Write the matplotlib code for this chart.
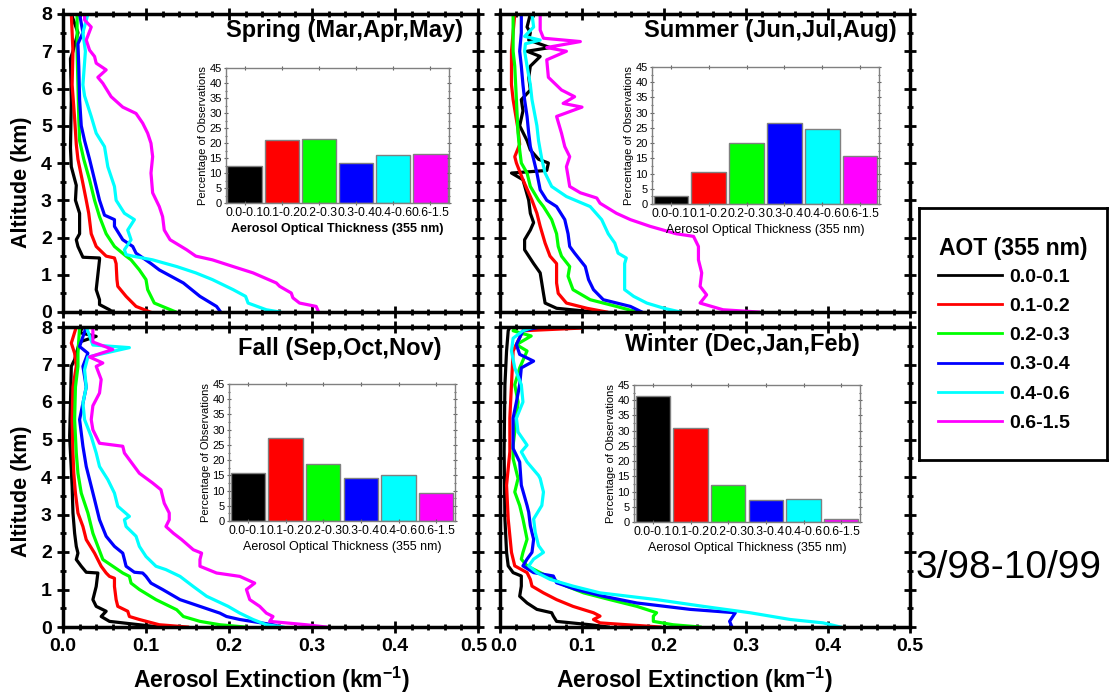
import numpy as np
import matplotlib.pyplot as plt
import matplotlib.transforms as mtransforms
from matplotlib.ticker import MultipleLocator
from matplotlib.lines import Line2D

plt.rcParams['font.family'] = ['Liberation Sans', 'DejaVu Sans']
plt.rcParams['mathtext.fontset'] = 'custom'
plt.rcParams['mathtext.rm'] = 'Liberation Sans:bold'
plt.rcParams['mathtext.bf'] = 'Liberation Sans:bold'

aot_bins = ['0.0-0.1', '0.1-0.2', '0.2-0.3', '0.3-0.4', '0.4-0.6', '0.6-1.5']
colors = ['#000000', '#ff0000', '#00ff00', '#0000ff', '#00ffff', '#ff00ff']

# percentage of observations per AOT bin
spring_pct = [12.2, 21.0, 21.3, 13.3, 16.0, 16.4]
summer_pct = [2.5, 10.5, 20.0, 26.6, 24.7, 15.7]
fall_pct = [15.7, 27.1, 18.7, 14.2, 15.1, 9.2]
winter_pct = [41.5, 30.8, 12.3, 7.1, 7.7, 1.0]

# ---- spring profiles (altitude km, extinction km-1) ----
spring_k_alt = [0, 0.06, 0.2, 0.33, 0.6, 1.0, 1.4, 1.45, 1.47, 1.76, 1.94, 2.1, 2.65, 3.0, 3.4, 3.9, 4.4, 5.7, 6.8, 7.0, 7.5, 8.0]
spring_k_ext = [0.060, 0.056, 0.044, 0.044, 0.040, 0.042, 0.044, 0.044, 0.024, 0.018, 0.016, 0.020, 0.020, 0.015, 0.016, 0.010, 0.009, 0.010, 0.009, 0.012, 0.018, 0.010]
spring_r_alt = [0, 0.15, 0.42, 0.69, 0.87, 1.3, 1.45, 1.5, 1.76, 2.1, 2.65, 3.0, 3.45, 4.1, 4.5, 5.2, 6.1, 7.0, 8.0]
spring_r_ext = [0.105, 0.088, 0.076, 0.066, 0.065, 0.064, 0.062, 0.052, 0.040, 0.034, 0.031, 0.028, 0.024, 0.018, 0.016, 0.014, 0.011, 0.012, 0.010]
spring_g_alt = [0, 0.24, 0.6, 0.87, 1.13, 1.4, 1.5, 1.76, 2.1, 2.56, 3.0, 3.55, 4.1, 4.6, 5.2, 6.1, 7.0, 8.0]
spring_g_ext = [0.136, 0.110, 0.102, 0.100, 0.092, 0.082, 0.076, 0.062, 0.052, 0.044, 0.038, 0.032, 0.025, 0.020, 0.019, 0.018, 0.017, 0.017]
spring_b_alt = [0, 0.15, 0.42, 0.78, 1.13, 1.3, 1.58, 1.76, 1.94, 2.3, 2.48, 2.6, 3.0, 3.55, 4.1, 4.6, 5.0, 5.7, 6.6, 7.2, 7.5, 8.0]
spring_b_ext = [0.190, 0.185, 0.165, 0.145, 0.116, 0.106, 0.088, 0.084, 0.072, 0.062, 0.062, 0.050, 0.044, 0.038, 0.032, 0.026, 0.022, 0.020, 0.019, 0.018, 0.024, 0.020]
spring_c_alt = [0, 0.06, 0.24, 0.42, 0.6, 0.87, 1.05, 1.22, 1.4, 1.5, 1.54, 1.67, 1.94, 2.2, 2.48, 2.65, 3.0, 3.37, 3.9, 4.44, 4.8, 5.25, 5.8, 6.1, 7.0, 7.5, 8.0]
spring_c_ext = [0.261, 0.245, 0.223, 0.220, 0.205, 0.180, 0.160, 0.137, 0.108, 0.084, 0.076, 0.074, 0.082, 0.078, 0.086, 0.074, 0.064, 0.062, 0.054, 0.050, 0.040, 0.034, 0.026, 0.024, 0.027, 0.024, 0.030]
spring_m_alt = [0, 0.15, 0.24, 0.38, 0.51, 0.69, 0.78, 1.05, 1.22, 1.4, 1.5, 1.67, 1.94, 2.2, 2.56, 2.83, 3.2, 3.73, 4.17, 4.53, 4.8, 5.07, 5.33, 5.5, 5.78, 6.14, 6.3, 6.5, 6.68, 6.86, 7.03, 7.3, 7.65, 7.84, 8.0]
spring_m_ext = [0.308, 0.305, 0.285, 0.277, 0.275, 0.261, 0.257, 0.229, 0.205, 0.180, 0.160, 0.149, 0.129, 0.122, 0.120, 0.116, 0.108, 0.106, 0.108, 0.106, 0.102, 0.096, 0.088, 0.072, 0.058, 0.048, 0.042, 0.052, 0.040, 0.038, 0.032, 0.028, 0.034, 0.026, 0.026]

# ---- summer profiles ----
summer_k_alt = [0, 0.1, 0.24, 0.5, 1.05, 1.3, 1.67, 1.94, 2.2, 2.4, 2.65, 3.0, 3.55, 3.73, 3.8, 4.0, 4.1, 4.35, 4.6, 5.0, 5.4, 5.7, 5.96, 6.3, 6.6, 6.86, 7.0, 7.1, 7.3, 7.5, 7.65, 8.0]
summer_k_ext = [0.115, 0.069, 0.055, 0.053, 0.049, 0.041, 0.030, 0.030, 0.037, 0.041, 0.037, 0.035, 0.028, 0.014, 0.057, 0.059, 0.047, 0.037, 0.033, 0.024, 0.028, 0.026, 0.037, 0.035, 0.037, 0.049, 0.033, 0.061, 0.035, 0.037, 0.033, 0.037]
summer_r_alt = [0, 0.1, 0.24, 0.5, 0.78, 1.3, 1.5, 1.85, 2.3, 2.65, 3.0, 3.55, 4.0, 4.17, 4.5, 4.9, 5.7, 6.1, 7.0, 7.5, 8.0]
summer_r_ext = [0.130, 0.106, 0.081, 0.071, 0.069, 0.069, 0.061, 0.055, 0.049, 0.045, 0.039, 0.028, 0.020, 0.018, 0.024, 0.022, 0.016, 0.014, 0.014, 0.016, 0.018]
summer_g_alt = [0, 0.15, 0.33, 0.6, 0.96, 1.22, 1.5, 1.76, 2.1, 2.48, 2.83, 3.0, 3.37, 3.73, 4.0, 4.35, 4.8, 5.7, 6.6, 7.0, 8.0]
summer_g_ext = [0.167, 0.142, 0.110, 0.089, 0.083, 0.085, 0.075, 0.071, 0.069, 0.063, 0.053, 0.047, 0.037, 0.033, 0.026, 0.024, 0.022, 0.020, 0.018, 0.016, 0.016]
summer_b_alt = [0, 0.15, 0.33, 0.6, 0.87, 1.22, 1.58, 1.76, 2.1, 2.48, 2.83, 3.0, 3.28, 3.73, 4.1, 4.44, 4.8, 5.25, 5.7, 6.1, 6.6, 7.0, 7.5, 8.0]
summer_b_ext = [0.173, 0.159, 0.126, 0.114, 0.108, 0.104, 0.091, 0.085, 0.083, 0.079, 0.069, 0.057, 0.049, 0.045, 0.041, 0.037, 0.035, 0.033, 0.030, 0.028, 0.026, 0.024, 0.026, 0.026]
summer_c_alt = [0, 0.1, 0.24, 0.42, 0.6, 0.96, 1.3, 1.45, 1.58, 1.85, 2.1, 2.48, 2.83, 3.1, 3.37, 3.73, 4.1, 4.6, 5.0, 5.7, 6.1, 6.6, 7.0, 7.2, 7.3, 7.4, 7.65, 8.0]
summer_c_ext = [0.220, 0.200, 0.179, 0.163, 0.152, 0.152, 0.152, 0.154, 0.144, 0.140, 0.132, 0.124, 0.110, 0.081, 0.063, 0.055, 0.051, 0.047, 0.045, 0.039, 0.037, 0.033, 0.030, 0.031, 0.049, 0.030, 0.041, 0.039]
summer_m_alt = [0, 0.06, 0.24, 0.46, 0.69, 1.05, 1.4, 1.76, 2.03, 2.1, 2.3, 2.48, 2.65, 2.92, 3.06, 3.2, 3.37, 3.64, 3.9, 4.17, 4.44, 4.8, 5.25, 5.5, 5.6, 5.78, 5.96, 6.3, 6.77, 7.0, 7.1, 7.26, 7.35, 7.57, 8.0]
summer_m_ext = [0.315, 0.272, 0.244, 0.252, 0.244, 0.246, 0.242, 0.242, 0.236, 0.215, 0.183, 0.159, 0.142, 0.122, 0.118, 0.098, 0.085, 0.083, 0.081, 0.085, 0.079, 0.075, 0.069, 0.100, 0.077, 0.091, 0.075, 0.059, 0.057, 0.081, 0.057, 0.098, 0.053, 0.049, 0.049]

# ---- fall profiles ----
fall_k_alt = [0, 0.06, 0.15, 0.28, 0.42, 0.55, 0.73, 1.08, 1.44, 1.46, 1.62, 1.8, 1.97, 2.15, 2.5, 3.04, 3.75, 4.2, 5.08, 5.97, 6.95, 7.13, 7.6, 7.75, 7.85, 8.0]
fall_k_ext = [0.116, 0.092, 0.056, 0.046, 0.052, 0.040, 0.036, 0.040, 0.042, 0.028, 0.022, 0.016, 0.018, 0.016, 0.014, 0.012, 0.011, 0.010, 0.008, 0.009, 0.010, 0.014, 0.020, 0.040, 0.020, 0.024]
fall_r_alt = [0, 0.06, 0.2, 0.28, 0.42, 0.55, 0.73, 1.08, 1.3, 1.35, 1.44, 1.62, 1.97, 2.33, 2.68, 3.04, 3.57, 4.1, 4.64, 5.53, 6.4, 6.95, 7.3, 7.57, 8.0]
fall_r_ext = [0.150, 0.116, 0.092, 0.080, 0.078, 0.066, 0.064, 0.062, 0.062, 0.056, 0.052, 0.046, 0.038, 0.028, 0.024, 0.018, 0.015, 0.013, 0.012, 0.011, 0.012, 0.016, 0.014, 0.010, 0.016]
fall_g_alt = [0, 0.06, 0.15, 0.28, 0.46, 0.73, 1.0, 1.17, 1.35, 1.44, 1.62, 1.8, 2.15, 2.5, 3.04, 3.57, 4.1, 4.64, 5.53, 6.4, 6.95, 7.3, 8.0]
fall_g_ext = [0.219, 0.189, 0.165, 0.145, 0.137, 0.112, 0.092, 0.082, 0.080, 0.072, 0.060, 0.048, 0.042, 0.036, 0.030, 0.022, 0.018, 0.016, 0.014, 0.015, 0.018, 0.018, 0.020]
fall_b_alt = [0, 0.06, 0.2, 0.28, 0.37, 0.55, 0.73, 1.0, 1.17, 1.35, 1.44, 1.46, 1.62, 1.8, 1.97, 2.15, 2.42, 2.86, 3.4, 3.93, 4.28, 4.82, 5.53, 6.4, 6.95, 7.3, 7.48, 8.0]
fall_b_ext = [0.263, 0.253, 0.213, 0.197, 0.189, 0.165, 0.141, 0.120, 0.106, 0.100, 0.096, 0.086, 0.076, 0.074, 0.072, 0.062, 0.052, 0.044, 0.038, 0.032, 0.028, 0.024, 0.020, 0.028, 0.024, 0.030, 0.020, 0.028]
fall_c_alt = [0, 0.06, 0.2, 0.37, 0.55, 0.82, 1.08, 1.35, 1.53, 1.62, 1.88, 2.15, 2.42, 2.68, 2.86, 2.95, 3.22, 3.57, 3.93, 4.28, 4.64, 5.08, 5.53, 5.97, 6.4, 6.86, 7.2, 7.45, 7.52, 8.0]
fall_c_ext = [0.265, 0.245, 0.229, 0.213, 0.199, 0.173, 0.157, 0.141, 0.124, 0.112, 0.100, 0.092, 0.088, 0.076, 0.074, 0.080, 0.066, 0.062, 0.054, 0.044, 0.040, 0.034, 0.026, 0.024, 0.028, 0.026, 0.030, 0.080, 0.036, 0.028]
fall_m_alt = [0, 0.06, 0.15, 0.28, 0.37, 0.55, 0.73, 1.0, 1.17, 1.35, 1.44, 1.62, 1.8, 1.97, 2.06, 2.33, 2.5, 2.68, 2.86, 3.04, 3.3, 3.66, 3.84, 4.1, 4.46, 4.64, 4.82, 4.9, 5.26, 5.53, 5.9, 6.24, 6.6, 6.95, 7.04, 7.2, 7.4, 7.6, 8.0]
fall_m_ext = [0.317, 0.293, 0.249, 0.253, 0.245, 0.237, 0.225, 0.221, 0.231, 0.213, 0.185, 0.165, 0.165, 0.167, 0.157, 0.143, 0.133, 0.124, 0.128, 0.128, 0.122, 0.118, 0.108, 0.092, 0.080, 0.074, 0.072, 0.044, 0.036, 0.034, 0.036, 0.044, 0.046, 0.040, 0.048, 0.032, 0.060, 0.036, 0.036]

# ---- winter profiles (no 0.6-1.5 curve in winter) ----
winter_k_alt = [0, 0.06, 0.15, 0.29, 0.38, 0.47, 0.64, 0.82, 1.09, 1.36, 1.45, 1.63, 1.99, 2.88, 4.67, 6.46, 7.36, 7.9, 8.0]
winter_k_ext = [0.132, 0.110, 0.069, 0.065, 0.063, 0.045, 0.033, 0.024, 0.026, 0.026, 0.016, 0.010, 0.008, 0.006, 0.005, 0.006, 0.008, 0.010, 0.012]
winter_r_alt = [0, 0.11, 0.2, 0.29, 0.38, 0.55, 0.73, 0.91, 1.09, 1.27, 1.45, 1.63, 1.99, 2.88, 3.78, 4.67, 5.57, 6.46, 7.36, 7.9, 7.97]
winter_r_ext = [0.195, 0.122, 0.114, 0.122, 0.114, 0.089, 0.069, 0.053, 0.039, 0.037, 0.033, 0.018, 0.014, 0.010, 0.008, 0.012, 0.012, 0.014, 0.016, 0.028, 0.098]
winter_g_alt = [0, 0.06, 0.15, 0.29, 0.38, 0.55, 0.73, 0.91, 1.09, 1.27, 1.45, 1.63, 1.81, 1.99, 2.34, 2.88, 3.24, 3.6, 3.96, 4.49, 4.85, 5.57, 6.0, 6.46, 6.91, 7.36, 7.53, 7.76, 7.9, 8.0]
winter_g_ext = [0.244, 0.211, 0.187, 0.187, 0.191, 0.167, 0.134, 0.102, 0.081, 0.065, 0.049, 0.033, 0.026, 0.028, 0.033, 0.028, 0.024, 0.018, 0.022, 0.016, 0.016, 0.020, 0.022, 0.018, 0.024, 0.033, 0.020, 0.038, 0.016, 0.020]
winter_b_alt = [0, 0.15, 0.38, 0.47, 0.64, 0.82, 1.0, 1.18, 1.36, 1.45, 1.63, 1.81, 1.99, 2.34, 2.7, 3.06, 3.24, 3.78, 4.4, 4.76, 5.57, 6.0, 6.46, 6.91, 7.09, 7.27, 7.53, 7.9, 8.0]
winter_b_ext = [0.283, 0.280, 0.287, 0.232, 0.167, 0.126, 0.093, 0.069, 0.065, 0.041, 0.028, 0.033, 0.039, 0.041, 0.037, 0.035, 0.033, 0.026, 0.024, 0.016, 0.016, 0.020, 0.024, 0.026, 0.041, 0.024, 0.020, 0.028, 0.049]
winter_c_alt = [0, 0.11, 0.2, 0.38, 0.55, 0.73, 0.91, 1.09, 1.27, 1.45, 1.63, 1.81, 1.99, 2.17, 2.52, 2.88, 3.24, 3.6, 3.96, 4.04, 4.4, 4.67, 4.85, 5.2, 5.57, 6.0, 6.46, 6.91, 7.36, 7.7, 7.9, 8.0]
winter_c_ext = [0.415, 0.394, 0.354, 0.305, 0.248, 0.191, 0.122, 0.089, 0.061, 0.045, 0.035, 0.041, 0.053, 0.047, 0.043, 0.041, 0.051, 0.053, 0.049, 0.047, 0.033, 0.026, 0.033, 0.022, 0.020, 0.028, 0.026, 0.018, 0.014, 0.016, 0.028, 0.041]
winter_m_alt = []
winter_m_ext = []

seasons = [
    ('Spring (Mar,Apr,May)', spring_pct,
     [(spring_k_ext, spring_k_alt), (spring_r_ext, spring_r_alt), (spring_g_ext, spring_g_alt),
      (spring_b_ext, spring_b_alt), (spring_c_ext, spring_c_alt), (spring_m_ext, spring_m_alt)]),
    ('Summer (Jun,Jul,Aug)', summer_pct,
     [(summer_k_ext, summer_k_alt), (summer_r_ext, summer_r_alt), (summer_g_ext, summer_g_alt),
      (summer_b_ext, summer_b_alt), (summer_c_ext, summer_c_alt), (summer_m_ext, summer_m_alt)]),
    ('Fall (Sep,Oct,Nov)', fall_pct,
     [(fall_k_ext, fall_k_alt), (fall_r_ext, fall_r_alt), (fall_g_ext, fall_g_alt),
      (fall_b_ext, fall_b_alt), (fall_c_ext, fall_c_alt), (fall_m_ext, fall_m_alt)]),
    ('Winter (Dec,Jan,Feb)', winter_pct,
     [(winter_k_ext, winter_k_alt), (winter_r_ext, winter_r_alt), (winter_g_ext, winter_g_alt),
      (winter_b_ext, winter_b_alt), (winter_c_ext, winter_c_alt), (winter_m_ext, winter_m_alt)]),
]

W, H = 1110, 696


def rect(left, top, right, bottom):
    # pixel box -> figure fraction
    return [left / W, 1 - bottom / H, (right - left) / W, (bottom - top) / H]


main_boxes = [(63, 14, 478, 312), (500, 14, 910, 312), (63, 327, 478, 627), (500, 327, 910, 627)]
inset_boxes = [(226, 68, 449, 203), (652, 67, 879, 204), (229, 384, 455, 521), (634, 385, 860, 522)]
title_pos = [(0.964, 0.943), (0.968, 0.943), (0.913, 0.93), (0.878, 0.94)]

fig = plt.figure(figsize=(11.1, 6.96), dpi=100)
axes = []

for i, (title, pct, curves) in enumerate(seasons):
    ax = fig.add_axes(rect(*main_boxes[i]))
    axes.append(ax)
    for (ext, alt), c in zip(curves, colors):
        if len(ext):
            ax.plot(ext, alt, color=c, lw=2.3)
    ax.set_xlim(0, 0.5)
    ax.set_ylim(0, 8)
    ax.set_xticks(np.arange(0, 0.51, 0.1))
    ax.set_xticklabels(['0.0', '0.1', '0.2', '0.3', '0.4', '0.5'])
    ax.xaxis.set_minor_locator(MultipleLocator(0.02))
    ax.set_yticks(range(9))
    ax.yaxis.set_minor_locator(MultipleLocator(0.5))
    ax.tick_params(which='both', direction='inout', top=True, right=True, width=2,
                   labelbottom=(i >= 2), labelleft=(i % 2 == 0), labelsize=14)
    ax.tick_params(which='major', length=9)
    ax.tick_params(which='minor', length=5)
    for lab in ax.get_xticklabels() + ax.get_yticklabels():
        lab.set_fontweight('bold')
    for sp in ax.spines.values():
        sp.set_linewidth(2.5)
    ax.text(title_pos[i][0], title_pos[i][1], title, transform=ax.transAxes,
            ha='right', va='center', fontsize=17, fontweight='bold')

    # inset histogram of AOT
    axi = fig.add_axes(rect(*inset_boxes[i]))
    axi.bar(range(6), pct, width=0.92, color=colors, edgecolor='#808080', lw=1)
    axi.set_xlim(-0.5, 5.5)
    axi.set_ylim(0, 45)
    axi.set_xticks(range(6))
    axi.set_xticklabels(aot_bins, fontsize=8.7)
    axi.yaxis.set_major_locator(MultipleLocator(5))
    axi.yaxis.set_minor_locator(MultipleLocator(2.5))
    axi.tick_params(which='both', direction='inout', top=True, right=True, labelsize=8,
                    pad=1.5, length=3, width=0.8, color='#606060')
    axi.tick_params(axis='x', labelsize=8.7)
    axi.tick_params(which='minor', length=2)
    for sp in axi.spines.values():
        sp.set_linewidth(1)
        sp.set_color('#808080')
    axi.set_ylabel('Percentage of Observations', fontsize=8, labelpad=1)
    axi.set_xlabel('Aerosol Optical Thickness (355 nm)', fontsize=9,
                   fontweight='bold' if i == 0 else 'normal', labelpad=3)

# the 0.5 and 0.0 labels of the two bottom panels sit side by side
nudge = 4 / 100
axes[2].get_xticklabels()[-1].set_transform(
    axes[2].get_xticklabels()[-1].get_transform() + mtransforms.ScaledTranslation(-nudge, 0, fig.dpi_scale_trans))
axes[3].get_xticklabels()[0].set_transform(
    axes[3].get_xticklabels()[0].get_transform() + mtransforms.ScaledTranslation(nudge, 0, fig.dpi_scale_trans))

fig.text(22 / W, 1 - 182 / H, 'Altitude (km)', rotation=90, ha='center', va='center',
         fontsize=15.5, fontweight='bold')
fig.text(22 / W, 1 - 491 / H, 'Altitude (km)', rotation=90, ha='center', va='center',
         fontsize=15.5, fontweight='bold')
fig.text(271 / W, 1 - 680 / H, 'Aerosol Extinction (km$^{-1}$)', ha='center', va='center',
         fontsize=16.5, fontweight='bold')
fig.text(694 / W, 1 - 680 / H, 'Aerosol Extinction (km$^{-1}$)', ha='center', va='center',
         fontsize=16.5, fontweight='bold')
fig.text(1009 / W, 1 - 568 / H, '3/98-10/99', ha='center', va='center', fontsize=28)

# legend box
axl = fig.add_axes(rect(919, 208, 1107, 460))
axl.set_xticks([])
axl.set_yticks([])
for sp in axl.spines.values():
    sp.set_linewidth(2)
axl.text(0.5, (460 - 248) / 252, 'AOT (355 nm)', transform=axl.transAxes,
         ha='center', va='center', fontsize=16.5, fontweight='bold')
handles = [Line2D([], [], color=c, lw=2) for c in colors]
leg = axl.legend(handles, aot_bins, loc='upper left',
                 bbox_to_anchor=((938 - 919) / 188, (460 - 268) / 252), frameon=False,
                 borderaxespad=0, borderpad=0, handlelength=3.3,
                 handletextpad=0.35, labelspacing=0.6, prop={'size': 14, 'weight': 'bold'})

fig.savefig('out.png', dpi=100)
